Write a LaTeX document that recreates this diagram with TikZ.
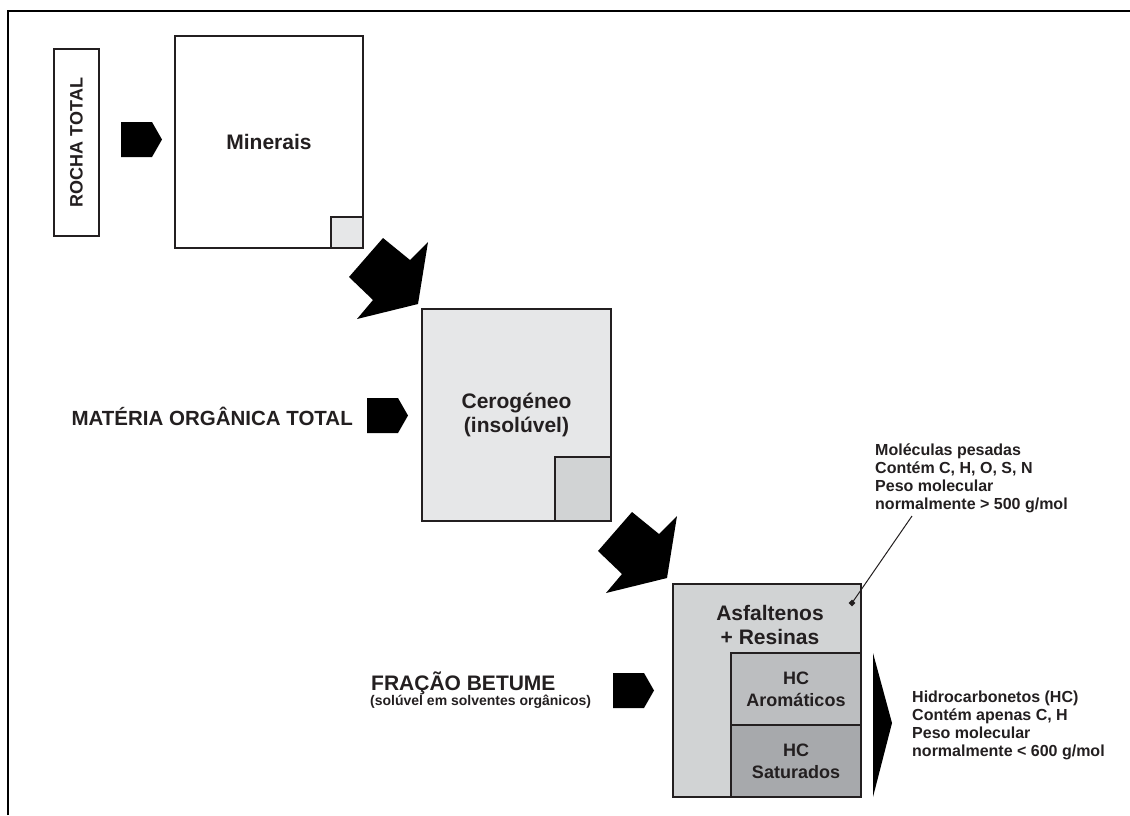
\documentclass[tikz,border=0pt]{standalone}
\usepackage{fontspec}
\setmainfont{Liberation Sans}
\usetikzlibrary{shapes.geometric}
\definecolor{tinta}{RGB}{35,31,32}
\definecolor{cinzaA}{RGB}{230,231,232}
\definecolor{cinzaB}{RGB}{209,211,212}
\definecolor{cinzaC}{RGB}{188,190,192}
\definecolor{cinzaD}{RGB}{167,169,172}
\tikzset{
  caixa/.style={draw=tinta,fill=#1,line width=1.2pt,inner sep=0pt,align=center,
    text=tinta,font=\fontsize{21}{24}\selectfont\bfseries},
  caixa/.default=white,
  rotulo/.style={text=tinta,inner sep=0pt,align=left,font=\fontsize{16}{18}\selectfont\bfseries},
  titulo/.style={text=tinta,inner sep=0pt,align=center,font=\fontsize{21}{24}\selectfont\bfseries},
  ponto/.style={diamond,fill=tinta,inner sep=0pt,minimum size=7pt},
  % setas cheias
  pics/bloco/.style={code={
    \fill[black] (0,0) -- (31,0) -- (41,17.5) -- (31,35) -- (0,35) -- cycle;
  }},
  pics/seta/.style={code={
    \fill[black] (0,0) -- (27,22) -- (45,4) -- (35,66) -- (-26,81) -- (-10,62) -- (-34,39) -- cycle;
  }},
}

\begin{document}
\begin{tikzpicture}[x=1pt,y=-1pt]
  \useasboundingbox (0,0) rectangle (1130,815);
  \draw[black,line width=1.5pt] (8,815) -- (8,11) -- (1130,11);
  % rocha total
  \node[caixa,rotate=90,minimum width=187,minimum height=45,font=\fontsize{18}{20}\selectfont\bfseries] (rocha) at (76.5,142.5) {ROCHA TOTAL};
  \node[caixa,minimum width=188,minimum height=212] (min) at (269,142) {Minerais};
  \node[caixa=cinzaA,minimum width=32,minimum height=31,anchor=south east] (minq) at (min.south east) {};
  % materia organica
  \node[titulo,anchor=base east,font=\fontsize{20.5}{24}\selectfont\bfseries] (mot) at (353,425) {MATÉRIA ORGÂNICA TOTAL};
  \node[caixa=cinzaA,minimum width=189,minimum height=212] (cer) at (516.5,415) {Cerogéneo\\(insolúvel)};
  \node[caixa=cinzaB,minimum width=56,minimum height=64,anchor=south east] (cerq) at (cer.south east) {};
  % betume
  \node[titulo,anchor=base west] (bet) at (371,690) {FRAÇÃO BETUME};
  \node[titulo,anchor=base west,font=\fontsize{14}{17}\selectfont\bfseries] (bets) at (370,705) {(solúvel em solventes orgânicos)};
  \node[caixa=cinzaB,minimum width=188,minimum height=213] (asf) at (767,690.5) {};
  \node[titulo] (asft) at (770,625) {Asfaltenos\\+ Resinas};
  \node[caixa=cinzaC,minimum width=130,minimum height=72,font=\fontsize{18}{22}\selectfont\bfseries] (aro) at (796,689) {HC\\Aromáticos};
  \node[caixa=cinzaD,minimum width=130,minimum height=72,font=\fontsize{18}{22}\selectfont\bfseries] (sat) at (796,761) {HC\\Saturados};
  % notas
  \node[rotulo,anchor=north west] (mol) at (875,444) {Moléculas pesadas\\Contém C, H, O, S, N\\Peso molecular\\normalmente > 500 g/mol};
  \node[rotulo,anchor=north west] (hid) at (912,690.5) {Hidrocarbonetos (HC)\\Contém apenas C, H\\Peso molecular\\normalmente < 600 g/mol};
  \node[ponto] (dot) at (852,603) {};
  \coordinate (mtop) at (912,516);
  \draw[tinta,line width=1pt] (mtop) -- (dot.center);
  % setas
  \foreach \px/\py in {121/122,367/398,613/673} \pic at (\px,\py) {bloco};
  \foreach \px/\py in {383/238,632/512} \pic at (\px,\py) {seta};
  \fill[black] (873,653) -- (892,723) -- (873,797) -- cycle;
\end{tikzpicture}
\end{document}
